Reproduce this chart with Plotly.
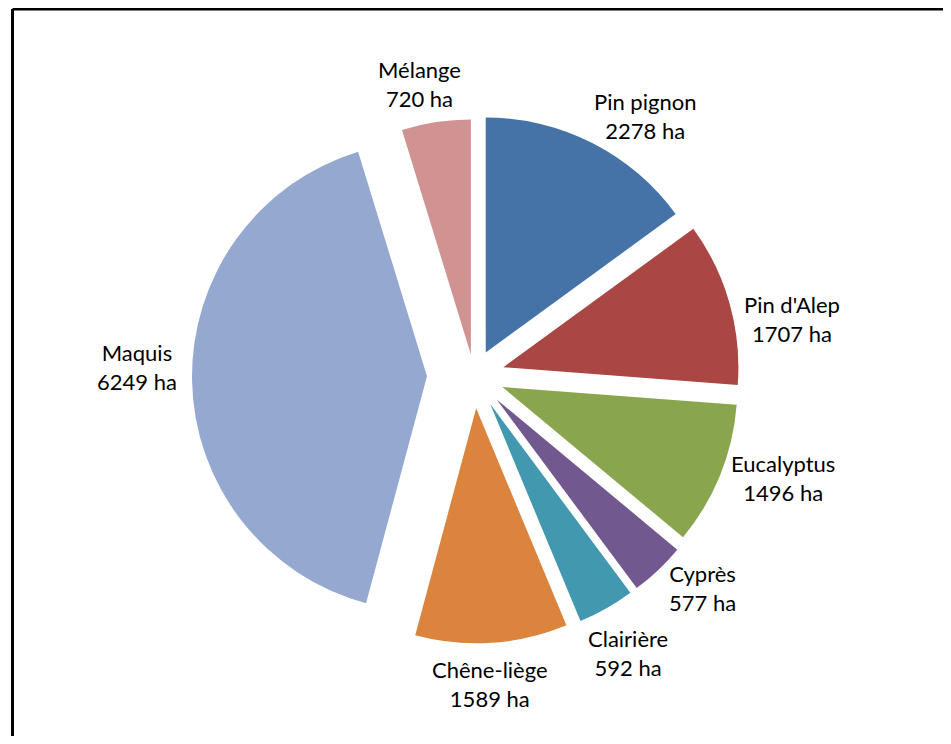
import plotly.graph_objects as go

labels = ["Pin pignon", "Pin d'Alep", "Eucalyptus", "Cyprès", "Clairière",
          "Chêne-liège", "Maquis", "Mélange"]
values = [2278, 1707, 1496, 577, 592, 1589, 6249, 720]
unit = "ha"

colors = ["#4572A7", "#AA4643", "#89A54E", "#71588F", "#4198AF",
          "#DB843D", "#95A9D0", "#D19392"]
pulls = [0.11, 0.13, 0.13, 0.14, 0.14, 0.14, 0.20, 0.09]
# label box centres (pixels from the top-left of the page), one per slice
label_pos = [(645, 115.5), (792, 319), (783, 478), (702, 588),
             (628, 653), (490, 684), (136.5, 366.5), (419, 84.5)]

OFF = 8  # page body margin
W, H = 951 - 2 * OFF, 744 - 2 * OFF
cx, cy, R = 474 - OFF, 375.5 - OFF, 235
half = R * (1 + max(pulls))

fig = go.Figure(go.Pie(
    labels=labels,
    values=values,
    sort=False,
    direction="clockwise",
    rotation=0,
    pull=pulls,
    automargin=False,
    marker=dict(colors=colors, line=dict(width=0)),
    textinfo="none",
    showlegend=False,
    hoverinfo="label+value",
    domain=dict(x=[(cx - half) / W, (cx + half) / W],
                y=[(H - cy - half) / H, (H - cy + half) / H]),
))

annotations = []
for lab, val, (px, py) in zip(labels, values, label_pos):
    annotations.append(dict(
        xref="paper", yref="paper",
        x=(px - OFF) / W, y=1 - (py - OFF) / H,
        xanchor="center", yanchor="middle",
        text=f"{lab}<br>{val} {unit}",
        showarrow=False, align="center",
        font=dict(family="Lato, 'Open Sans', sans-serif", size=22, color="#000000"),
    ))

bx = (12.5 - OFF) / W
by = 1 - 1 / H
fig.update_layout(
    width=W, height=H,
    margin=dict(l=0, r=0, t=0, b=0, pad=0, autoexpand=False),
    paper_bgcolor="white",
    plot_bgcolor="white",
    annotations=annotations,
    shapes=[
        dict(type="line", xref="paper", yref="paper",
             x0=bx, x1=1.5, y0=by, y1=by,
             line=dict(color="black", width=3)),
        dict(type="line", xref="paper", yref="paper",
             x0=bx, x1=bx, y0=by, y1=-0.5,
             line=dict(color="black", width=3)),
    ],
)

fig.write_html("out.html")
